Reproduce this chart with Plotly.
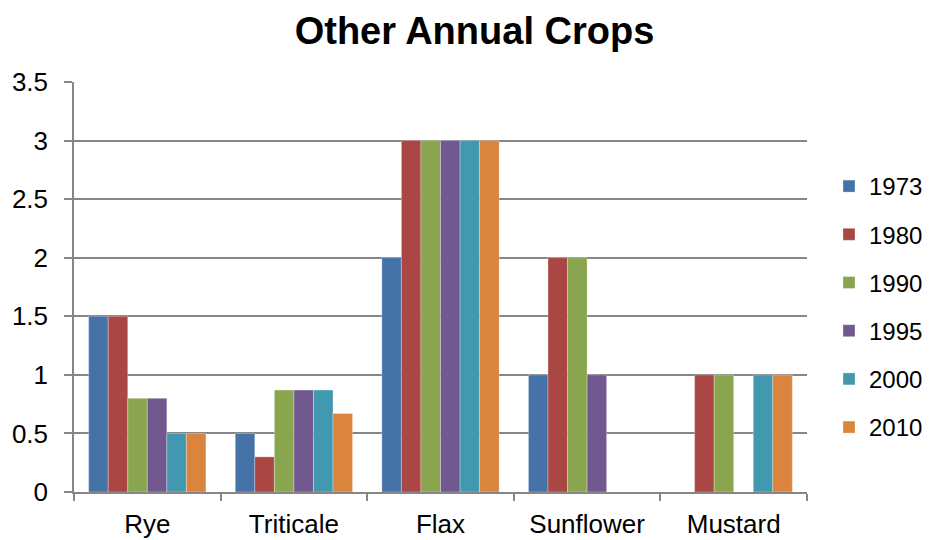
import plotly.graph_objects as go

categories = ["Rye", "Triticale", "Flax", "Sunflower", "Mustard"]
years = ["1973", "1980", "1990", "1995", "2000", "2010"]
v1973 = [1.5, 0.5, 2, 1, None]
v1980 = [1.5, 0.3, 3, 2, 1]
v1990 = [0.8, 0.87, 3, 2, 1]
v1995 = [0.8, 0.87, 3, 1, None]
v2000 = [0.5, 0.87, 3, None, 1]
v2010 = [0.5, 0.67, 3, None, 1]
series = [v1973, v1980, v1990, v1995, v2000, v2010]
colors = ["#4572A7", "#AA4643", "#89A54E", "#71588F", "#4198AF", "#DB843D"]

FONT = "Liberation Sans"
W, H = 922, 532  # page body has an 8px margin
fig = go.Figure()
for i, (yr, vals) in enumerate(zip(years, series)):
    fig.add_trace(go.Bar(
        x=categories, y=vals, name=yr, legendgroup=yr,
        marker=dict(color=colors[i], line=dict(color="rgba(255,255,255,0.5)", width=0.6)),
    ))

fig.update_layout(
    width=W, height=H,
    paper_bgcolor="white", plot_bgcolor="white",
    margin=dict(l=66, r=123, t=74, b=48, autoexpand=False),
    barmode="group", bargap=0.2, bargroupgap=0,
    font=dict(family=FONT, size=26, color="black"),
    title=dict(text="<b>Other Annual Crops</b>", x=466.5 / W, xref="container", xanchor="center",
               y=1 - 23 / H, yref="container", yanchor="middle",
               font=dict(family=FONT, size=38, color="black")),
    legend=dict(x=821 / W, xref="container", xanchor="left",
                y=1 - 156 / H, yref="container", yanchor="top",
                font=dict(family=FONT, size=24), tracegroupgap=14, maxheight=480,
                bgcolor="rgba(0,0,0,0)"),
    showlegend=True,
)
fig.update_xaxes(
    showline=True, linecolor="#868686", linewidth=1.5,
    ticks="outside", tickson="boundaries", ticklen=7, tickcolor="#868686", tickwidth=1.5,
    showgrid=False, ticklabelstandoff=8,
)
fig.update_yaxes(
    range=[0, 3.5], dtick=0.5, showline=True, linecolor="#868686", linewidth=1.5,
    ticks="outside", ticklen=8, tickcolor="#868686", tickwidth=1.5,
    showgrid=True, gridcolor="#868686", gridwidth=1.5, zeroline=False,
    ticklabelstandoff=11,
)
fig.write_html("out.html")
